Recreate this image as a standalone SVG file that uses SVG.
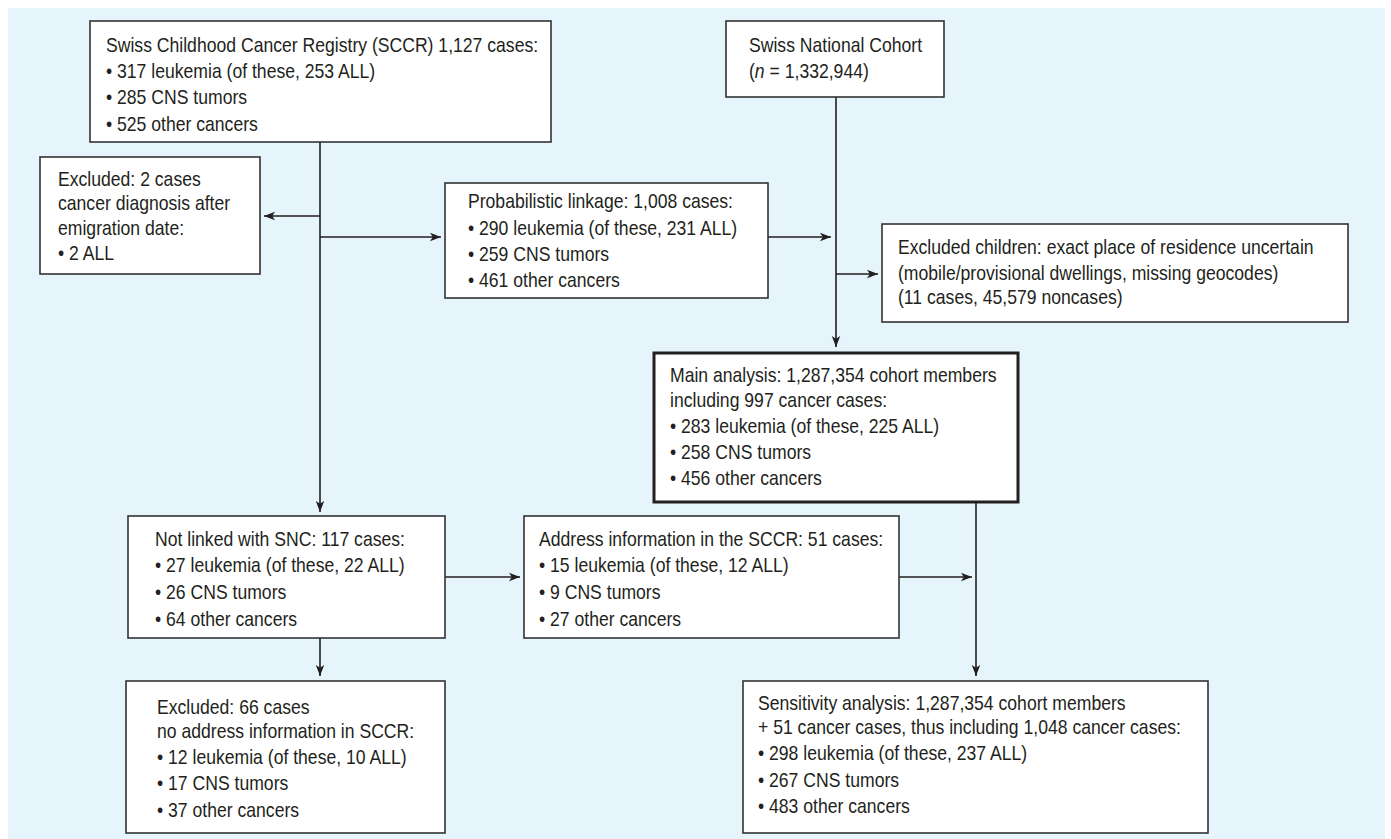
<svg xmlns="http://www.w3.org/2000/svg" width="1391" height="839" viewBox="0 0 1391 839">
<style>
.bg{fill:#e6f4fc}
.box{fill:#fff;stroke:#333;stroke-width:1.6}
.main{fill:#fff;stroke:#231f20;stroke-width:3}
.t{font-family:"Liberation Sans",Arial,sans-serif;font-size:20px;fill:#231f20}
.c{fill:none;stroke:#231f20;stroke-width:1.6}
</style>
<defs>
<marker id="ah" markerUnits="userSpaceOnUse" markerWidth="12" markerHeight="10" refX="11" refY="5" orient="auto">
<path d="M0,0.8 L11,5 L0,9.2 L2.8,5 Z" fill="#231f20"/>
</marker>
</defs>
<rect class="bg" x="8" y="8" width="1377" height="831"/>
<g id="connectors">
<path class="c" d="M320,142 V512" marker-end="url(#ah)"/>
<path class="c" d="M320,216 H264" marker-end="url(#ah)"/>
<path class="c" d="M320,237 H441" marker-end="url(#ah)"/>
<path class="c" d="M768,237 H831" marker-end="url(#ah)"/>
<path class="c" d="M836,97 V347" marker-end="url(#ah)"/>
<path class="c" d="M836,274 H878" marker-end="url(#ah)"/>
<path class="c" d="M445,577 H520" marker-end="url(#ah)"/>
<path class="c" d="M320,638 V676" marker-end="url(#ah)"/>
<path class="c" d="M899,577 H972" marker-end="url(#ah)"/>
<path class="c" d="M976,503 V676" marker-end="url(#ah)"/>
</g>
<g id="sccr">
<rect class="box" x="90" y="21" width="461" height="121"/>
<text class="t" transform="matrix(0.88 0 0 1 106 0)"><tspan x="0" y="52">Swiss Childhood Cancer Registry (SCCR) 1,127 cases:</tspan><tspan x="0" y="78">• 317 leukemia (of these, 253 ALL)</tspan><tspan x="0" y="104">• 285 CNS tumors</tspan><tspan x="0" y="131">• 525 other cancers</tspan></text>
</g>
<g id="snc">
<rect class="box" x="726" y="21" width="218" height="76"/>
<text class="t" transform="matrix(0.88 0 0 1 749 0)"><tspan x="0" y="52">Swiss National Cohort</tspan><tspan x="0" y="78">(<tspan font-style="italic">n</tspan> = 1,332,944)</tspan></text>
</g>
<g id="excluded2">
<rect class="box" x="40" y="157" width="220" height="117"/>
<text class="t" transform="matrix(0.88 0 0 1 58 0)"><tspan x="0" y="186">Excluded: 2 cases</tspan><tspan x="0" y="210">cancer diagnosis after</tspan><tspan x="0" y="235">emigration date:</tspan><tspan x="0" y="260">• 2 ALL</tspan></text>
</g>
<g id="probabilistic">
<rect class="box" x="445" y="183" width="323" height="115"/>
<text class="t" transform="matrix(0.88 0 0 1 468 0)"><tspan x="0" y="208">Probabilistic linkage: 1,008 cases:</tspan><tspan x="0" y="235">• 290 leukemia (of these, 231 ALL)</tspan><tspan x="0" y="261">• 259 CNS tumors</tspan><tspan x="0" y="287">• 461 other cancers</tspan></text>
</g>
<g id="excludedChildren">
<rect class="box" x="882" y="224" width="466" height="98"/>
<text class="t" transform="matrix(0.88 0 0 1 898 0)"><tspan x="0" y="254">Excluded children: exact place of residence uncertain</tspan><tspan x="0" y="280">(mobile/provisional dwellings, missing geocodes)</tspan><tspan x="0" y="304">(11 cases, 45,579 noncases)</tspan></text>
</g>
<g id="mainAnalysis">
<rect class="main" x="654" y="353" width="364" height="149"/>
<text class="t" transform="matrix(0.88 0 0 1 670 0)"><tspan x="0" y="382">Main analysis: 1,287,354 cohort members</tspan><tspan x="0" y="407">including 997 cancer cases:</tspan><tspan x="0" y="433">• 283 leukemia (of these, 225 ALL)</tspan><tspan x="0" y="459">• 258 CNS tumors</tspan><tspan x="0" y="485">• 456 other cancers</tspan></text>
</g>
<g id="notLinked">
<rect class="box" x="128" y="516" width="317" height="122"/>
<text class="t" transform="matrix(0.88 0 0 1 155 0)"><tspan x="0" y="546">Not linked with SNC: 117 cases:</tspan><tspan x="0" y="572">• 27 leukemia (of these, 22 ALL)</tspan><tspan x="0" y="599">• 26 CNS tumors</tspan><tspan x="0" y="626">• 64 other cancers</tspan></text>
</g>
<g id="address">
<rect class="box" x="524" y="516" width="375" height="122"/>
<text class="t" transform="matrix(0.88 0 0 1 539 0)"><tspan x="0" y="546">Address information in the SCCR: 51 cases:</tspan><tspan x="0" y="572">• 15 leukemia (of these, 12 ALL)</tspan><tspan x="0" y="599">• 9 CNS tumors</tspan><tspan x="0" y="626">• 27 other cancers</tspan></text>
</g>
<g id="excluded66">
<rect class="box" x="126" y="681" width="319" height="152"/>
<text class="t" transform="matrix(0.88 0 0 1 157 0)"><tspan x="0" y="714">Excluded: 66 cases</tspan><tspan x="0" y="738">no address information in SCCR:</tspan><tspan x="0" y="764">• 12 leukemia (of these, 10 ALL)</tspan><tspan x="0" y="790">• 17 CNS tumors</tspan><tspan x="0" y="817">• 37 other cancers</tspan></text>
</g>
<g id="sensitivity">
<rect class="box" x="743" y="681" width="465" height="152"/>
<text class="t" transform="matrix(0.88 0 0 1 758 0)"><tspan x="0" y="710">Sensitivity analysis: 1,287,354 cohort members</tspan><tspan x="0" y="734">+ 51 cancer cases, thus including 1,048 cancer cases:</tspan><tspan x="0" y="760">• 298 leukemia (of these, 237 ALL)</tspan><tspan x="0" y="787">• 267 CNS tumors</tspan><tspan x="0" y="813">• 483 other cancers</tspan></text>
</g>
</svg>
